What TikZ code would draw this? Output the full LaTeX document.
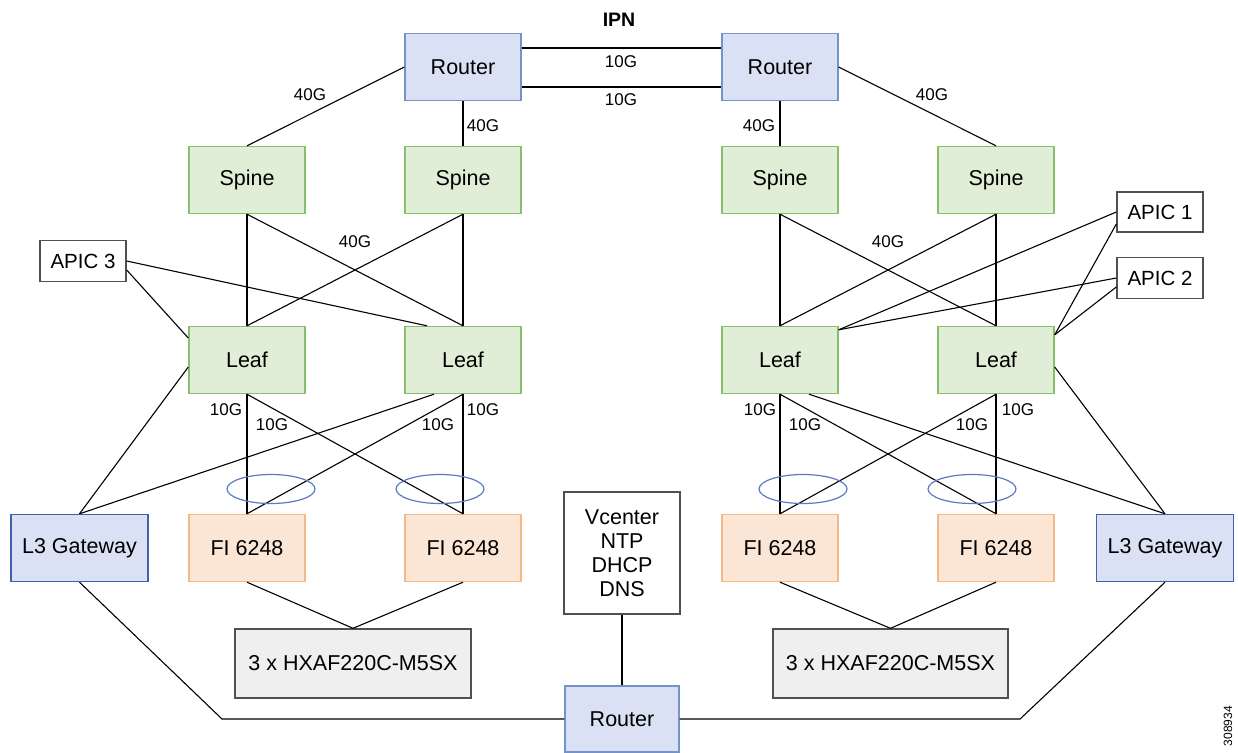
\documentclass[tikz,border=0pt]{standalone}
\usepackage{fontspec}
\setmainfont{Liberation Sans}
\usetikzlibrary{calc}
\definecolor{rtfill}{HTML}{DAE1F4}
\definecolor{rtdraw}{HTML}{7393C9}
\definecolor{gwdraw}{HTML}{3F62AD}
\definecolor{gnfill}{HTML}{E0EED7}
\definecolor{gndraw}{HTML}{88BF6A}
\definecolor{orfill}{HTML}{FBE5D5}
\definecolor{ordraw}{HTML}{F5B887}
\definecolor{gyfill}{HTML}{EFEFEF}
\definecolor{bxdraw}{HTML}{505050}
\definecolor{eldraw}{HTML}{5B7BBF}
\begin{document}
\begin{tikzpicture}[x=1pt,y=-1pt,
  box/.style={rectangle,inner sep=0pt,line width=1.4pt,font=\fontsize{21.5}{25}\selectfont,align=center},
  router/.style={box,fill=rtfill,draw=rtdraw,minimum width=116pt,minimum height=67pt},
  gateway/.style={box,fill=rtfill,draw=gwdraw,minimum width=137pt,minimum height=67pt},
  green/.style={box,fill=gnfill,draw=gndraw,minimum width=116pt,minimum height=67pt},
  fi/.style={box,fill=orfill,draw=ordraw,minimum width=116pt,minimum height=67pt},
  hx/.style={box,fill=gyfill,draw=bxdraw,minimum width=236pt,minimum height=69pt},
  apic/.style={box,fill=white,draw=bxdraw,minimum width=86pt,minimum height=41pt,font=\fontsize{20.5}{24}\selectfont},
  link/.style={line width=1.1pt,black},
  lbl/.style={font=\fontsize{17}{19}\selectfont,inner sep=0pt},
  lag/.style={draw=eldraw,line width=1.2pt,x radius=44pt,y radius=14.5pt}
]
\useasboundingbox[fill=white] (0,0) rectangle (1238,752);

% nodes
\node[router] (rtl) at (463,67) {Router};
\node[router] (rtr) at (780,67) {Router};
\node[font=\bfseries\fontsize{19.5}{22}\selectfont,inner sep=0pt] (ipn) at (619,20) {IPN};

\node[green] (sp1) at (247,180) {Spine};
\node[green] (sp2) at (463,180) {Spine};
\node[green] (sp3) at (780,180) {Spine};
\node[green] (sp4) at (996,180) {Spine};

\node[green] (lf1) at (247,360) {Leaf};
\node[green] (lf2) at (463,360) {Leaf};
\node[green] (lf3) at (780,360) {Leaf};
\node[green] (lf4) at (996,360) {Leaf};

\node[fi] (fi1) at (247,548) {FI 6248};
\node[fi] (fi2) at (463,548) {FI 6248};
\node[fi] (fi3) at (780,548) {FI 6248};
\node[fi] (fi4) at (996,548) {FI 6248};

\node[gateway] (gwl) at (79.5,548) {L3 Gateway};
\node[gateway] (gwr) at (1165,548) {L3 Gateway};

\node[box,fill=white,draw=bxdraw,minimum width=116pt,minimum height=122pt,font=\fontsize{21.5}{24}\selectfont] (svc) at (622,553) {Vcenter\\NTP\\DHCP\\DNS};
\node[router,minimum width=114pt,minimum height=66pt] (rtb) at (622,719) {Router};

\node[hx] (hxl) at (353,663.5) {3 x HXAF220C-M5SX};
\node[hx,minimum width=235pt] (hxr) at (890.5,663.5) {3 x HXAF220C-M5SX};

\node[apic] (ap3) at (83,261) {APIC 3};
\node[apic,minimum height=40pt] (ap1) at (1160,212) {APIC 1};
\node[apic] (ap2) at (1160,278) {APIC 2};

\node[font=\fontsize{12}{14}\selectfont,rotate=90,inner sep=0pt] (fig) at (1228,726) {308934};

% IPN links
\draw[link] ([yshift=19pt]rtl.east) -- ([yshift=19pt]rtr.west);
\draw[link] ([yshift=-20pt]rtl.east) -- ([yshift=-20pt]rtr.west);
\node[lbl] (l10a) at (621,62) {10G};
\node[lbl] (l10b) at (621,100) {10G};

% router - spine
\draw[link] (rtl.west) -- (sp1.north);
\draw[link] (rtl.south) -- (sp2.north);
\draw[link] (rtr.south) -- (sp3.north);
\draw[link] (rtr.east) -- (sp4.north);
\node[lbl] (l40a) at (310,95) {40G};
\node[lbl] (l40b) at (483,126) {40G};
\node[lbl] (l40c) at (759,126) {40G};
\node[lbl] (l40d) at (932,95) {40G};

% spine - leaf
\foreach \s in {sp1,sp2}{\foreach \l in {lf1,lf2}{\draw[link] (\s.south) -- (\l.north);}}
\foreach \s in {sp3,sp4}{\foreach \l in {lf3,lf4}{\draw[link] (\s.south) -- (\l.north);}}
\node[lbl] (l40e) at (355,242) {40G};
\node[lbl] (l40f) at (888,242) {40G};

% APIC links
\draw[link] (ap3.east) -- ([xshift=-36pt]lf2.north);
\draw[link] ([yshift=-9pt]ap3.east) -- ([yshift=22pt]lf1.west);
\draw[link] (ap1.west) -- ([yshift=-4pt]lf3.north east);
\draw[link] ([yshift=-12pt]ap1.west) -- ([yshift=-9pt]lf4.north east);
\draw[link] (ap2.west) -- ([yshift=-4pt]lf3.north east);
\draw[link] ([yshift=-9pt]ap2.west) -- ([yshift=-9pt]lf4.north east);

% leaf - gateway
\draw[link] ([yshift=-7pt]lf1.west) -- (gwl.north);
\draw[link] ([xshift=-29pt]lf2.south) -- (gwl.north);
\draw[link] ([xshift=29pt]lf3.south) -- (gwr.north);
\draw[link] ([yshift=-7pt]lf4.east) -- (gwr.north);

% leaf - FI
\foreach \l in {lf1,lf2}{\foreach \f in {fi1,fi2}{\draw[link] (\l.south) -- (\f.north);}}
\foreach \l in {lf3,lf4}{\foreach \f in {fi3,fi4}{\draw[link] (\l.south) -- (\f.north);}}
\node[lbl] (g1) at (226,410) {10G};
\node[lbl] (g2) at (272,425) {10G};
\node[lbl] (g3) at (438,425) {10G};
\node[lbl] (g4) at (483,410) {10G};
\node[lbl] (g5) at (760,410) {10G};
\node[lbl] (g6) at (805,425) {10G};
\node[lbl] (g7) at (972,425) {10G};
\node[lbl] (g8) at (1018,410) {10G};

% LAG ellipses
\draw[lag] (271,489) ellipse[];
\draw[lag] (440,489) ellipse[];
\draw[lag] (803,489) ellipse[];
\draw[lag] (972,489) ellipse[];

% FI - HX
\draw[link] (fi1.south) -- (hxl.north);
\draw[link] (fi2.south) -- (hxl.north);
\draw[link] (fi3.south) -- (hxr.north);
\draw[link] (fi4.south) -- (hxr.north);

% bottom
\coordinate (bl) at (222,719);
\coordinate (br) at (1020,719);
\draw[link] (gwl.south) -- (bl) -- (rtb.west);
\draw[link] (gwr.south) -- (br) -- (rtb.east);
\draw[link] (svc.south) -- (rtb.north);
\end{tikzpicture}
\end{document}
